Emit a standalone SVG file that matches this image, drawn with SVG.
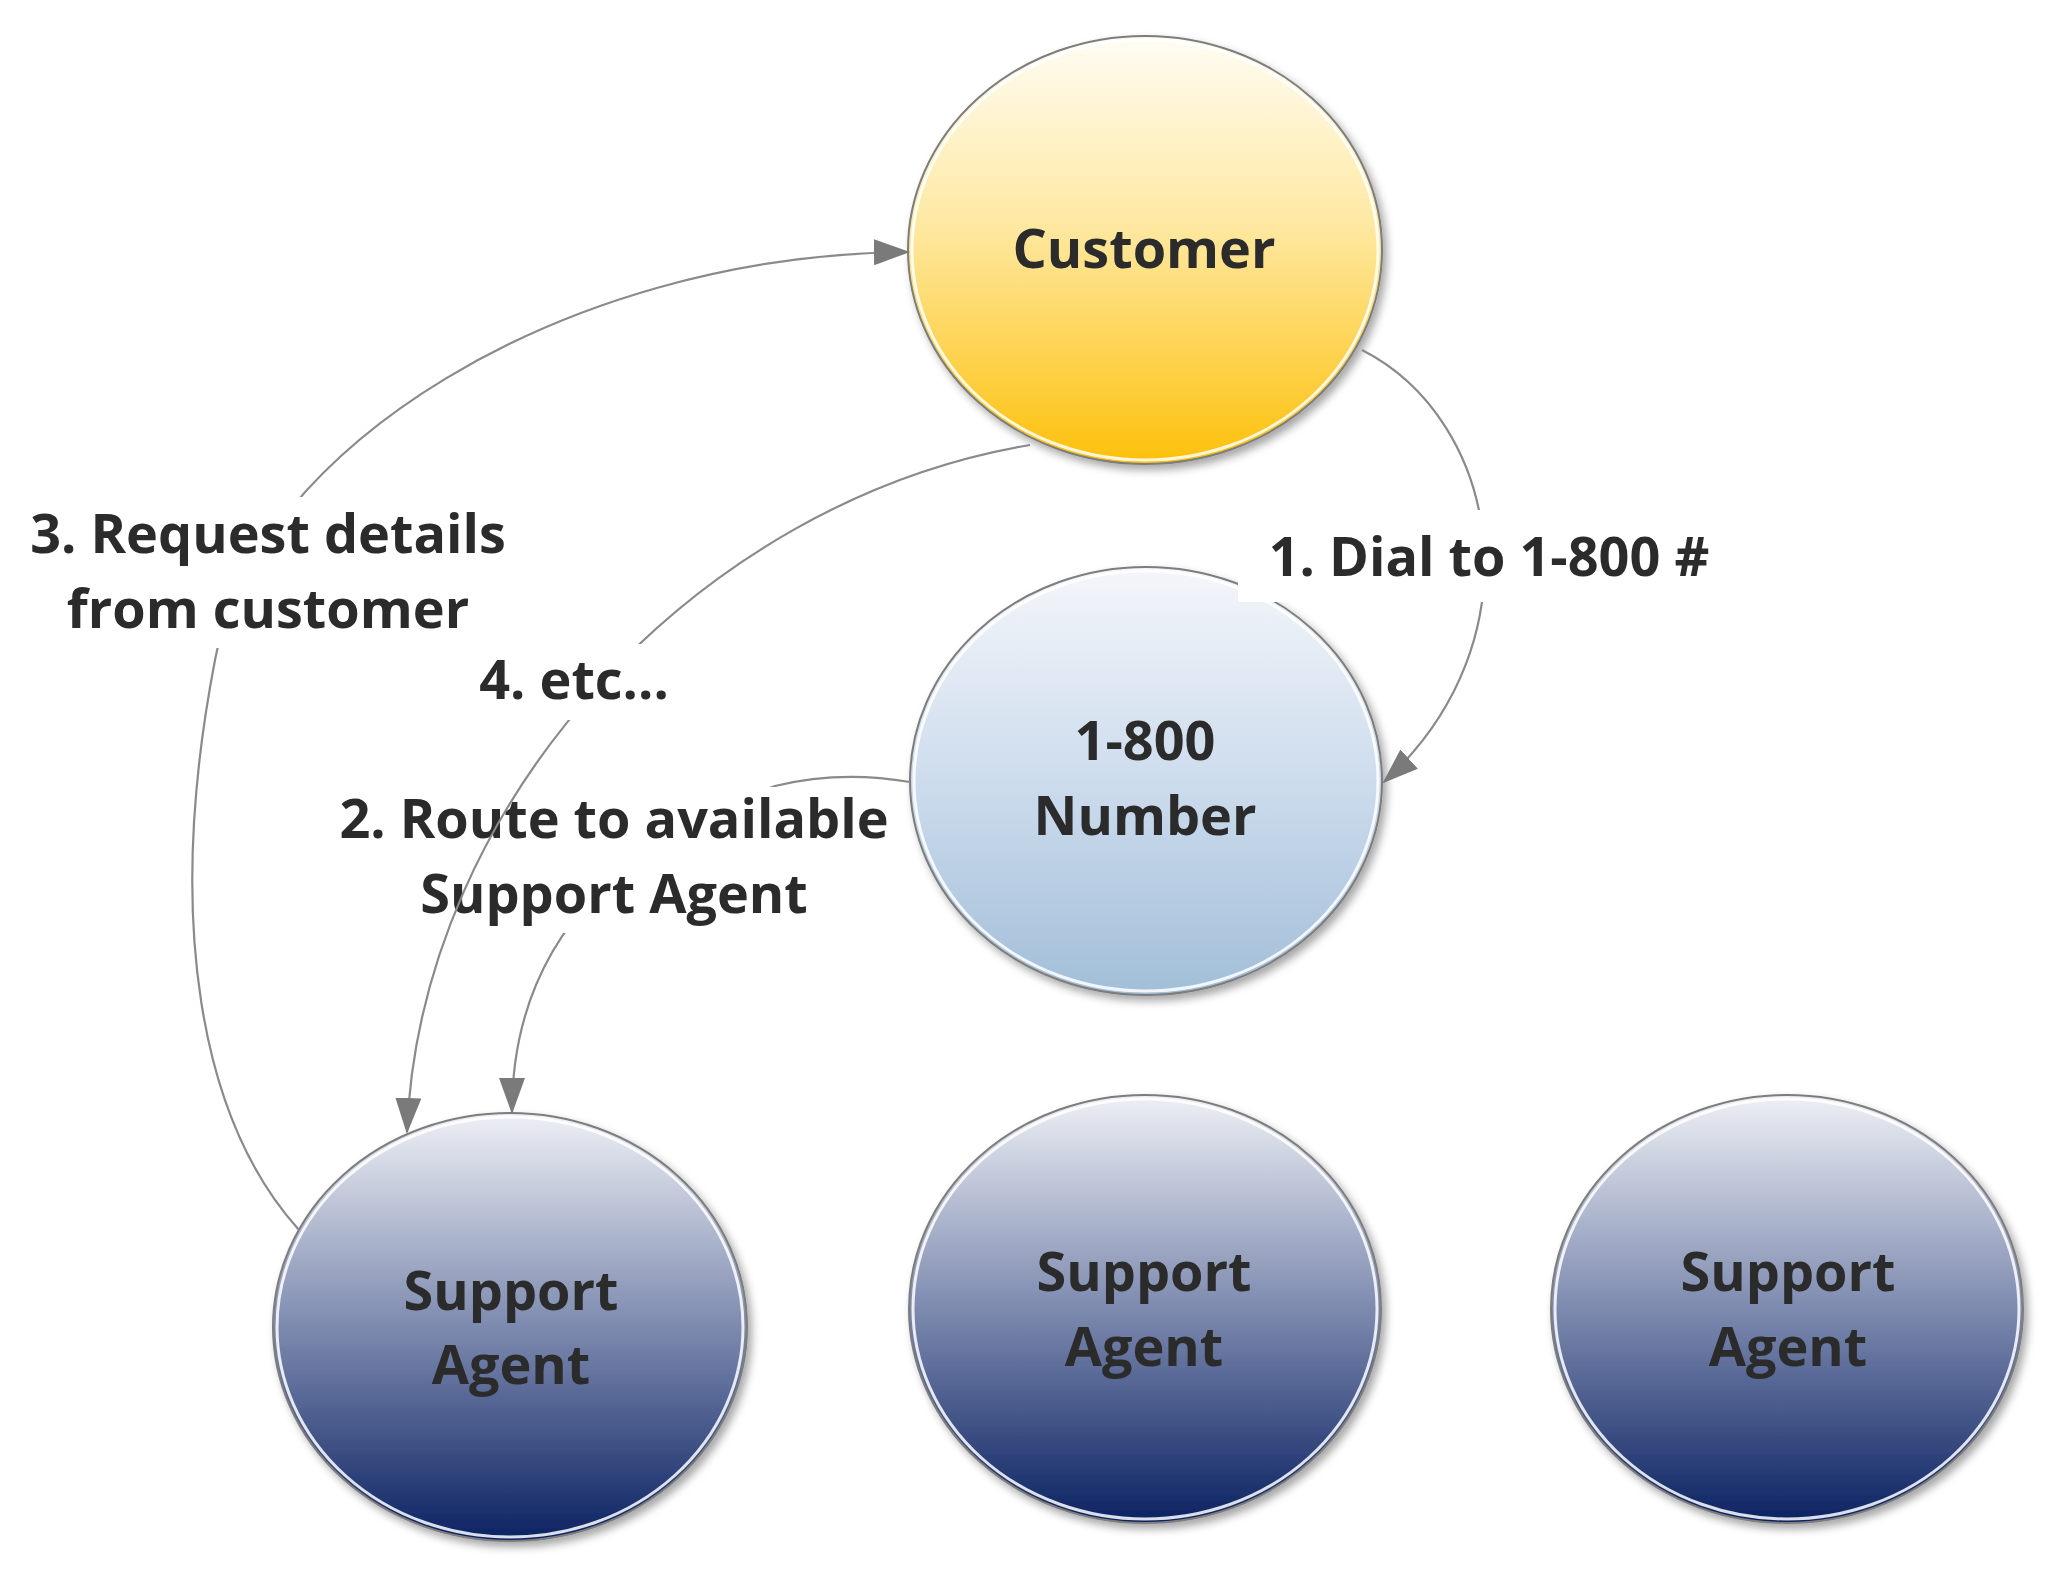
<svg xmlns="http://www.w3.org/2000/svg" width="2048" height="1582" viewBox="0 0 2048 1582">
<style>
.nt{font-family:"Open Sans","Liberation Sans",sans-serif;font-weight:700;font-size:54px;fill:#2b2b2b;text-anchor:middle}
.lt{font-family:"Open Sans","Liberation Sans",sans-serif;font-weight:700;font-size:54px;fill:#2b2b2b;text-anchor:middle}
.edge{fill:none;stroke:#8a8a8a;stroke-width:2.2}
.border{stroke:#7d7d7d;stroke-width:2}
.ring{fill:none;stroke:#ffffff;stroke-width:3;opacity:0.85}
.bg{fill:#ffffff}
</style>
<defs>
<linearGradient id="gCust" x1="0" y1="0" x2="0" y2="1">
<stop offset="0" stop-color="#fffdf4"/>
<stop offset="0.45" stop-color="#fee8a0"/>
<stop offset="1" stop-color="#fdc00a"/>
</linearGradient>
<linearGradient id="gNum" x1="0" y1="0" x2="0" y2="1">
<stop offset="0" stop-color="#f4f6fa"/>
<stop offset="0.5" stop-color="#cddced"/>
<stop offset="1" stop-color="#a2bed8"/>
</linearGradient>
<linearGradient id="gAgent" x1="0" y1="0" x2="0" y2="1">
<stop offset="0" stop-color="#eef0f5"/>
<stop offset="0.5" stop-color="#7d8aaf"/>
<stop offset="1" stop-color="#0b2262"/>
</linearGradient>
<filter id="sh" x="-10%" y="-10%" width="125%" height="125%">
<feDropShadow dx="4" dy="5" stdDeviation="4" flood-color="#000" flood-opacity="0.35"/>
</filter>
<marker id="arr" markerUnits="userSpaceOnUse" markerWidth="36" markerHeight="26" refX="34" refY="13" orient="auto">
<path d="M0,0 L36,13 L0,26 z" fill="#7a7a7a"/>
</marker>
</defs>
<rect width="2048" height="1582" fill="#ffffff"/>

<g id="node-customer">
<ellipse cx="1145" cy="250" rx="237" ry="214" fill="url(#gCust)" class="border" filter="url(#sh)"/>
<ellipse cx="1145" cy="250" rx="233" ry="210" class="ring"/>
<text class="nt" x="1144" y="268">Customer</text>
</g>

<g id="node-number">
<ellipse cx="1146" cy="781" rx="236" ry="214" fill="url(#gNum)" class="border" filter="url(#sh)"/>
<ellipse cx="1146" cy="781" rx="232" ry="210" class="ring"/>
<text class="nt" x="1145" y="760">1-800</text>
<text class="nt" x="1145" y="835">Number</text>
</g>

<g id="node-agent1">
<ellipse cx="510" cy="1327" rx="237" ry="214" fill="url(#gAgent)" class="border" filter="url(#sh)"/>
<ellipse cx="510" cy="1327" rx="233" ry="210" class="ring"/>
<text class="nt" x="511" y="1310">Support</text>
<text class="nt" x="511" y="1384">Agent</text>
</g>

<g id="node-agent2">
<ellipse cx="1145" cy="1309" rx="236" ry="214" fill="url(#gAgent)" class="border" filter="url(#sh)"/>
<ellipse cx="1145" cy="1309" rx="232" ry="210" class="ring"/>
<text class="nt" x="1144" y="1291">Support</text>
<text class="nt" x="1144" y="1366">Agent</text>
</g>

<g id="node-agent3">
<ellipse cx="1787" cy="1309" rx="236" ry="214" fill="url(#gAgent)" class="border" filter="url(#sh)"/>
<ellipse cx="1787" cy="1309" rx="232" ry="210" class="ring"/>
<text class="nt" x="1788" y="1291">Support</text>
<text class="nt" x="1788" y="1366">Agent</text>
</g>

<g id="connectors">
<g id="edge-route">
<path class="edge" d="M910,782 Q840,770 775,786 C650,830 512,920 512,1112" marker-end="url(#arr)"/>
<rect class="bg" x="322" y="787" width="584" height="146"/>
<text class="lt" x="614" y="838">2. Route to available</text>
<text class="lt" x="614" y="913">Support Agent</text>
</g>
<g id="edge-etc">
<path class="edge" d="M1030,445 C700,500 420,800 407,1132" marker-end="url(#arr)"/>
<rect class="bg" x="470" y="644" width="210" height="76"/>
<text class="lt" x="574" y="699">4. etc...</text>
</g>
<g id="edge-dial">
<path class="edge" d="M1362,350 C1500,420 1540,640 1384,782" marker-end="url(#arr)"/>
<rect class="bg" x="1238" y="510" width="502" height="92"/>
<text class="lt" x="1489" y="576">1. Dial to 1-800 #</text>
</g>
<g id="edge-request">
<path class="edge" d="M299,1230 C200,1120 165,920 215,660 C255,450 560,255 908,252" marker-end="url(#arr)"/>
<rect class="bg" x="16" y="497" width="506" height="151"/>
<text class="lt" x="268" y="553">3. Request details</text>
<text class="lt" x="268" y="628">from customer</text>
</g>
</g>
</svg>
